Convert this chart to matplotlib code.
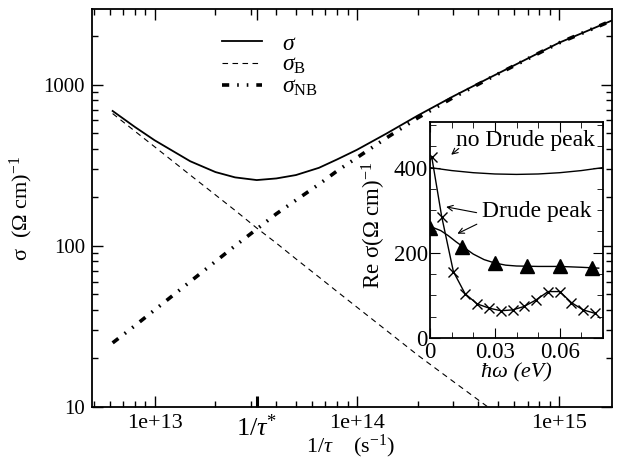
import numpy as np
import matplotlib.pyplot as plt
from matplotlib.ticker import FixedLocator, NullFormatter, MultipleLocator, LogLocator

plt.rcParams['font.family'] = ['Liberation Serif', 'DejaVu Serif']
plt.rcParams['mathtext.fontset'] = 'custom'
plt.rcParams['mathtext.rm'] = 'Liberation Serif'
plt.rcParams['mathtext.it'] = 'Liberation Serif:italic'

# main panel: conductivity vs scattering rate 1/tau (s^-1)
inv_tau = [6.2e12, 8e12, 1e13, 1.5e13, 2e13, 2.5e13, 3.2e13, 4e13, 5e13, 6.5e13,
           8e13, 1e14, 1.4e14, 2e14, 3e14, 4.5e14, 6e14, 8e14, 1e15, 1.3e15, 1.85e15]
sigma_NB = [25, 32, 40, 60, 80, 100, 127, 158, 192, 241,
            292, 352, 467, 622, 833, 1090, 1311, 1576, 1816, 2086, 2516]
sigma = [687, 546, 452, 335, 287, 266, 256, 262, 275, 305,
         344, 394, 497, 643, 847, 1099, 1318, 1581, 1820, 2089, 2518]
inv_tau_B = [6.2e12, 8e12, 1e13, 1.5e13, 2e13, 2.5e13, 3.2e13, 4e13, 5e13, 6.5e13,
             8e13, 1e14, 1.4e14, 2e14, 3e14, 4.5e14, 6e14]
sigma_B = [662, 514, 412, 275, 207, 166, 129, 104, 83, 64,
           52, 41.7, 29.9, 21.0, 14.4, 9.9, 7.5]
tau_star = 3.2e13

# inset: Re sigma vs photon energy (eV)
w_nodrude = [0.0, 0.01, 0.02, 0.03, 0.04, 0.05, 0.06, 0.07, 0.08]
s_nodrude = [400, 393, 388, 385, 384, 385, 388, 393, 400]
w_tri = [0.0, 0.015, 0.03, 0.045, 0.06, 0.075]
s_tri = [259, 214, 176, 168, 168, 165]
w_triline = [0.0, 0.005, 0.0085, 0.012, 0.015, 0.02, 0.025, 0.03, 0.035, 0.04, 0.05, 0.06, 0.07, 0.078]
s_triline = [262, 252, 240, 226, 215, 197, 184, 176, 171, 169, 168, 168, 166, 164]
w_x = [0.0008, 0.0054, 0.0108, 0.0162, 0.0218, 0.0274, 0.0328, 0.0382,
       0.0435, 0.0489, 0.0546, 0.06, 0.0654, 0.0708, 0.0762]
s_x = [425, 285, 156, 104, 80, 70, 64, 66, 74, 89, 109, 109, 83, 66, 58]

fig = plt.figure(figsize=(6.19, 4.59), dpi=100)
ax = fig.add_axes([0.1486, 0.1133, 0.8401, 0.8671])

ax.plot(inv_tau, sigma, 'k-', lw=1.3, label=r'$\sigma$')
ax.plot(inv_tau_B, sigma_B, color='k', lw=0.8, linestyle=(0, (5, 4)), label=r'$\sigma_{\rm B}$')
ax.plot(inv_tau, sigma_NB, color='k', lw=2.6, dash_capstyle='butt',
        linestyle=(0, (2.0, 2.2, 0.45, 2.2, 0.45, 2.2)), label=r'$\sigma_{\rm NB}$')

ax.set_xscale('log')
ax.set_yscale('log')
ax.set_xlim(4.9e12, 1.83e15)
ax.set_ylim(10, 2950)

ax.xaxis.set_major_locator(FixedLocator([1e13, tau_star, 1e14, 1e15]))
ax.set_xticklabels(['1e+13', r'$1/\tau^{*}$', '1e+14', '1e+15'])
ax.xaxis.set_minor_locator(LogLocator(base=10, subs=np.arange(2, 10)))
ax.xaxis.set_minor_formatter(NullFormatter())
ax.set_yticks([10, 100, 1000])
ax.set_yticklabels(['10', '100', '1000'])
ax.yaxis.set_minor_locator(LogLocator(base=10, subs=np.arange(2, 10)))
ax.yaxis.set_minor_formatter(NullFormatter())
ax.tick_params(which='both', direction='in', top=True, right=True, labelsize=15, width=1)
ax.tick_params(axis='x', labelsize=16)
ax.tick_params(which='major', length=8, pad=5)
ax.tick_params(which='minor', length=4)
ax.get_xticklabels()[1].set_fontsize(19)
ax.xaxis.get_major_ticks()[1].tick1line.set_markeredgewidth(2.2)
for sp in ax.spines.values():
    sp.set_linewidth(1.3)

ax.set_xlabel(r'$1/\tau$    (s$^{-1}$)', fontsize=16)
ax.xaxis.set_label_coords(0.498, -0.064)
ax.set_ylabel(r'σ  (Ω cm)$^{-1}$', fontsize=16, labelpad=6)

ax.legend(loc='upper left', bbox_to_anchor=(0.209, 0.993), frameon=False, fontsize=17,
          handlelength=1.7, handletextpad=0.85, labelspacing=0.0)

# inset
axi = fig.add_axes([0.6947, 0.2636, 0.2795, 0.4706])
axi.plot(w_nodrude, s_nodrude, 'k-', lw=1.0)
axi.plot(w_triline, s_triline, 'k-', lw=1.0)
axi.plot(w_tri, s_tri, 'k^', ms=10, lw=0)
axi.plot(w_x, s_x, 'k-', lw=1.0)
axi.plot(w_x, s_x, 'kx', ms=7, mew=1.0)
axi.set_xlim(0, 0.08)
axi.set_ylim(0, 507)
axi.set_xticks([0, 0.03, 0.06])
axi.set_xticklabels(['0', '0.03', '0.06'])
axi.xaxis.set_minor_locator(MultipleLocator(0.01))
axi.set_yticks([0, 200, 400])
axi.yaxis.set_minor_locator(MultipleLocator(50))
axi.tick_params(which='both', direction='in', top=True, right=True, labelsize=16.5)
axi.tick_params(axis='x', pad=3)
axi.tick_params(axis='y', pad=1.5)
axi.tick_params(which='major', length=7)
axi.tick_params(which='minor', length=4)
for sp in axi.spines.values():
    sp.set_linewidth(1.3)
axi.set_xlabel('ħω (eV)', fontsize=16, fontstyle='italic', labelpad=0)
axi.set_ylabel(r'Re σ(Ω cm)$^{-1}$', fontsize=16.5)
axi.yaxis.set_label_coords(-0.245, 0.52)

axi.text(0.0443, 464, 'no Drude peak', fontsize=17, ha='center', va='center')
axi.annotate('', xy=(0.0088, 426), xytext=(0.0143, 449),
             arrowprops=dict(arrowstyle='->', lw=0.8, color='k'))
axi.text(0.0494, 296, 'Drude peak', fontsize=17, ha='center', va='center')
axi.annotate('', xy=(0.0062, 309), xytext=(0.0228, 293),
             arrowprops=dict(arrowstyle='->', lw=0.8, color='k'))
axi.annotate('', xy=(0.0115, 242), xytext=(0.0228, 270),
             arrowprops=dict(arrowstyle='->', lw=0.8, color='k'))

fig.savefig('out.png', dpi=100)
